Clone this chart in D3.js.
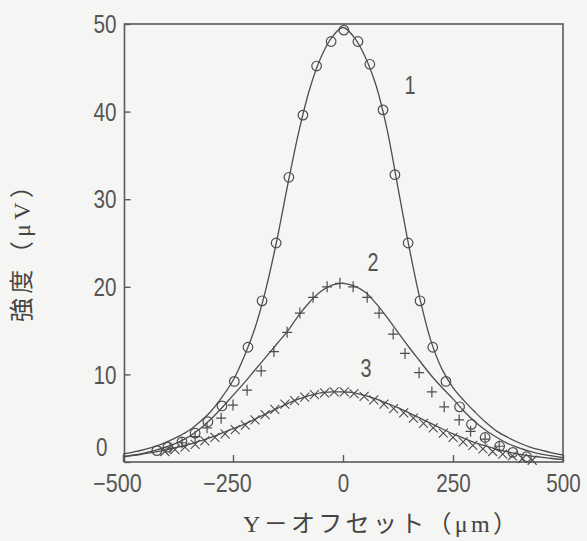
<!DOCTYPE html>
<html><head><meta charset="utf-8">
<script src="https://cdn.jsdelivr.net/npm/d3@7"></script>
<style>
html,body{margin:0;padding:0;background:#f5f5f3;}
svg{display:block;}
</style></head>
<body>
<svg id="c" width="587" height="541"></svg>
<script>
// ---- data ----
const xTickValues = [-500, -250, 0, 250, 500];
const xTickLabels = ["\u2212500", "\u2212250", "0", "250", "500"];
const yTickValues = [0, 10, 20, 30, 40, 50];
const yTickLabels = ["0", "10", "20", "30", "40", "50"];
const xTitle = "Y－オフセット（μm）";
const yTitle = "強度（μV）";
const seriesNames = ["1", "2", "3"];

// fitted curves, read every 25 µm
const lineX = [-500,-475,-450,-425,-400,-375,-350,-325,-300,-275,-250,-225,-200,-175,-150,-125,-100,-75,-50,-25,0,
  25,50,75,100,125,150,175,200,225,250,275,300,325,350,375,400,425,450,475,500];
const line1Y = [0.9,1.15,1.45,1.8,2.3,2.9,3.6,4.6,5.8,7.4,9.3,12.0,15.3,19.8,25.4,31.8,37.8,42.7,46.2,48.5,49.6,
  48.5,46.3,43.0,38.0,31.3,24.6,18.6,13.8,10.6,8.5,7.0,5.7,4.5,3.5,2.8,2.2,1.7,1.35,1.05,0.8];
const line2Y = [0.6,0.8,1.05,1.35,1.75,2.25,2.9,3.8,4.9,6.2,7.6,9.0,10.5,12.0,13.5,15.0,16.8,18.3,19.5,20.2,20.4,
  20.1,19.4,18.1,16.5,14.8,13.1,11.5,9.9,8.5,7.2,5.8,4.6,3.6,2.8,2.1,1.6,1.2,0.9,0.7,0.5];
const line3Y = [0.6,0.75,0.95,1.15,1.4,1.7,2.0,2.4,2.8,3.3,3.8,4.3,4.9,5.5,6.1,6.7,7.2,7.6,7.9,8.0,8.0,
  7.9,7.6,7.2,6.7,6.2,5.6,5.0,4.4,3.8,3.2,2.7,2.2,1.8,1.45,1.15,0.9,0.7,0.55,0.4,0.3];

// measured points
const circleX = [-423,-398,-366,-336,-307,-275,-247,-216,-184,-152,-123,-91,-60,-27,2,34,61,91,118,148,175,204,234,265,292,323,356,386,417];
const circleY = [1.3,1.7,2.3,3.3,4.6,6.4,9.2,13.1,18.4,25.0,32.5,39.6,45.2,48.0,49.3,48.0,45.4,40.2,32.8,25.0,18.4,13.1,9.2,6.3,4.3,2.8,1.8,1.1,0.6];
const plusX = [-393,-366,-336,-309,-277,-250,-218,-186,-157,-127,-98,-68,-36,-7,23,55,82,114,141,173,202,230,264,290,323,355];
const plusY = [1.6,2.2,2.9,3.9,5.0,6.5,8.2,10.4,12.6,14.8,17.0,18.8,20.0,20.4,20.0,18.8,17.0,14.6,12.4,10.2,8.0,6.3,4.8,3.5,2.6,1.8];
const crossX = [-405,-382,-359,-336,-314,-291,-268,-245,-222,-200,-177,-155,-132,-110,-87,-65,-42,-20,3,25,48,70,93,115,138,160,183,205,228,250,273,295,318,340,363,385,408,430];
const crossY = [1.2,1.4,1.7,2.0,2.4,2.8,3.2,3.7,4.2,4.8,5.4,6.0,6.6,7.0,7.4,7.7,7.9,8.0,8.0,7.8,7.5,7.1,6.6,6.1,5.6,5.0,4.4,3.9,3.3,2.8,2.3,1.9,1.5,1.2,0.9,0.7,0.4,0.2];

// label anchor values (data coords)
const labelX = [152, 68, 52];
const labelY = [42.0, 21.8, 9.7];

// ---- drawing ----
const svg = d3.select("#c");
const ink = "#4d4d4d";
const numFont = "'Liberation Sans Narrow','Liberation Sans',sans-serif";
const titleFont = "'Liberation Serif','Noto Sans CJK JP',serif";
const narrowLen = s => Array.from(s).reduce((a, ch) => a + (ch === "\u2212" ? 14 : 11.5), 0);

const x = d3.scaleLinear().domain([-500, 500]).range([123, 563]);
const y = d3.scaleLinear().domain([0, 50]).range([462, 24]);

// frame
svg.append("rect").attr("x", 124.5).attr("y", 24).attr("width", 563 - 124.5).attr("height", 462 - 24)
  .attr("fill", "none").attr("stroke", "#5a5a5a").attr("stroke-width", 1.6);

// axes
const gy = svg.append("g").attr("transform", "translate(124.5,0)")
  .call(d3.axisLeft(y).tickValues(yTickValues).tickSizeInner(-6).tickSizeOuter(0).tickPadding(8)
    .tickFormat((d, i) => yTickLabels[i]));
gy.select(".domain").remove();
gy.selectAll("line").attr("stroke", "#5a5a5a").attr("stroke-width", 1.4);
gy.selectAll("text").attr("font-family", numFont).attr("font-size", 25).attr("fill", "#555")
  .attr("textLength", (d, i) => narrowLen(yTickLabels[i])).attr("lengthAdjust", "spacingAndGlyphs")
  .attr("dx", d => d === 0 ? -9 : 0).attr("dy", d => d === 0 ? "-0.28em" : "0.35em");

const gx = svg.append("g").attr("transform", "translate(0,462)")
  .call(d3.axisBottom(x).tickValues(xTickValues).tickSizeInner(-7).tickSizeOuter(0).tickPadding(12)
    .tickFormat((d, i) => xTickLabels[i]));
gx.select(".domain").remove();
gx.selectAll("line").attr("stroke", "#5a5a5a").attr("stroke-width", 1.4);
gx.selectAll("text").attr("font-family", numFont).attr("font-size", 25).attr("fill", "#555")
  .attr("textLength", (d, i) => narrowLen(xTickLabels[i])).attr("lengthAdjust", "spacingAndGlyphs")
  .attr("dx", (d) => d < 0 ? -6 : 0);

// curves
const lineGen = (ys) => d3.line().x((d, i) => x(lineX[i])).y((d, i) => y(ys[i])).curve(d3.curveCatmullRom.alpha(0.5))(ys);
[line1Y, line2Y, line3Y].forEach(ys => {
  svg.append("path").attr("d", lineGen(ys)).attr("fill", "none").attr("stroke", ink).attr("stroke-width", 1.3);
});

// markers
svg.append("g").selectAll("circle").data(circleX).join("circle")
  .attr("cx", d => x(d)).attr("cy", (d, i) => y(circleY[i])).attr("r", 4.8)
  .attr("fill", "none").attr("stroke", ink).attr("stroke-width", 1.2);
svg.append("g").selectAll("path").data(plusX).join("path")
  .attr("transform", (d, i) => `translate(${x(d)},${y(plusY[i])})`)
  .attr("d", "M-5,0H5M0,-5.5V5.5").attr("fill", "none").attr("stroke", ink).attr("stroke-width", 1.2);
svg.append("g").selectAll("path").data(crossX).join("path")
  .attr("transform", (d, i) => `translate(${x(d)},${y(crossY[i])})`)
  .attr("d", "M-4.5,-4.5L4.5,4.5M-4.5,4.5L4.5,-4.5").attr("fill", "none").attr("stroke", ink).attr("stroke-width", 1.1);

// series labels
svg.append("g").selectAll("text").data(seriesNames).join("text")
  .attr("x", (d, i) => x(labelX[i])).attr("y", (d, i) => y(labelY[i]))
  .attr("text-anchor", "middle").attr("font-family", numFont).attr("font-size", 25).attr("fill", "#555")
  .attr("textLength", 11).attr("lengthAdjust", "spacingAndGlyphs")
  .text(d => d);

// axis titles
svg.append("text").attr("x", 243).attr("y", 532).attr("font-family", titleFont).attr("font-size", 24)
  .attr("fill", "#444").attr("textLength", 274).attr("lengthAdjust", "spacing").text(xTitle);
svg.append("text").attr("transform", "translate(30,322) rotate(-90)").attr("x", 0).attr("y", 0)
  .attr("font-family", titleFont).attr("font-size", 24).attr("fill", "#444")
  .attr("textLength", 148).attr("lengthAdjust", "spacing").text(yTitle);
</script>
</body></html>
